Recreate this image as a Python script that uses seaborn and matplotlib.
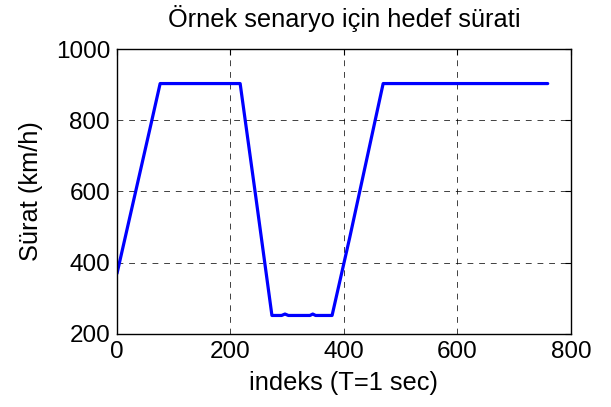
import matplotlib
matplotlib.use("Agg")
import matplotlib.pyplot as plt
import seaborn as sns
import pandas as pd

# Data
indeks = [0, 20, 40, 60, 76, 217, 245, 273, 290, 296, 302, 340, 345, 350, 379, 410, 440, 469, 759]
surat = [370, 510, 650, 790, 903, 903, 580, 252, 252, 256, 252, 252, 256, 252, 252, 470, 690, 903, 903]

xticks = [0, 200, 400, 600, 800]
yticks = [200, 400, 600, 800, 1000]

sns.set_style("white")
plt.rcParams['font.family'] = ['Liberation Sans', 'DejaVu Sans']
plt.rcParams['text.color'] = 'black'
plt.rcParams['axes.labelcolor'] = 'black'

fig = plt.figure(figsize=(6.11, 4.07), dpi=100)
ax = fig.add_axes([0.1915, 0.1794, 0.9345 - 0.1915, 0.8796 - 0.1794])

df = pd.DataFrame({"indeks": indeks, "surat": surat})
sns.lineplot(data=df, x="indeks", y="surat", ax=ax, color=(0, 0, 1), linewidth=2.3, sort=False)

fs = 17.5
fl = 18.3
ax.set_xlim(0, 800)
ax.set_ylim(200, 1000)
ax.set_xticks(xticks)
ax.set_yticks(yticks)
ax.grid(True, color='black', linestyle=(0, (6, 6)), linewidth=0.7, alpha=0.75)
for s in ax.spines.values():
    s.set_color('black')
    s.set_linewidth(1.0)
ax.tick_params(direction='in', top=True, right=True, length=4, width=0.8,
               labelsize=fs, colors='black', pad=5)
ax.set_xlabel("indeks (T=1 sec)", fontsize=fl, labelpad=6, color='black')
ax.set_ylabel("Sürat (km/h)", fontsize=fl, labelpad=9, color='black')
ax.set_title("Örnek senaryo için hedef sürati", fontsize=fl, pad=16, color='black')

fig.savefig("out.png", dpi=100)
